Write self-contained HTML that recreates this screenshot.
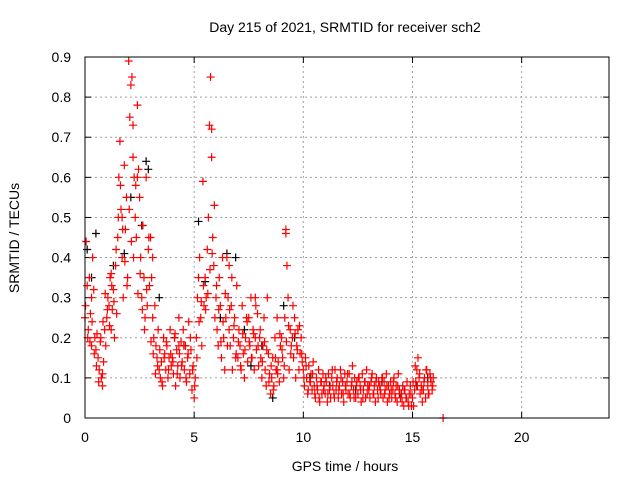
<!DOCTYPE html>
<html><head><meta charset="utf-8"><style>
body{margin:0;background:#fff;}
svg{display:block;font-family:"Liberation Sans",sans-serif;}
</style></head><body>
<svg id="chart" width="640" height="480">
<text x="345" y="32" font-size="14" text-anchor="middle">Day 215 of 2021, SRMTID for receiver sch2</text>
<text x="345" y="471" font-size="14" text-anchor="middle">GPS time / hours</text>
<text transform="translate(19,238) rotate(-90)" font-size="14" text-anchor="middle">SRMTID / TECUs</text>
<g id="grid"></g>
<g id="ticks"></g>
<g id="black"></g>
<g id="red"></g>
<rect x="85" y="57" width="524" height="361" fill="none" stroke="#000" stroke-width="1"/>
</svg>
<script>
const xTicks=[0,5,10,15,20];
const yTicks=[0,0.1,0.2,0.3,0.4,0.5,0.6,0.7,0.8,0.9];
const yTickLabels=["0","0.1","0.2","0.3","0.4","0.5","0.6","0.7","0.8","0.9"];
const redStart=0, redStep=0.05;
const redValues=[
0.25,0.44,0.33,0.22,0.35,0.26,0.18,0.40,0.32,0.20,
0.17,0.21,0.15,0.12,0.19,0.10,0.08,0.14,0.22,0.18,
0.25,0.30,0.28,0.35,0.22,0.27,0.32,0.20,0.38,0.26,
0.45,0.60,0.69,0.52,0.40,0.30,0.63,0.47,0.55,0.35,
0.89,0.75,0.83,0.85,0.65,0.60,0.50,0.45,0.78,0.62,
0.55,0.40,0.30,0.48,0.35,0.25,0.60,0.28,0.42,0.33,
0.45,0.35,0.25,0.20,0.28,0.18,0.15,0.22,0.12,0.10,
0.14,0.08,0.20,0.16,0.12,0.18,0.10,0.15,0.22,0.13,
0.15,0.11,0.20,0.08,0.17,0.13,0.25,0.10,0.19,0.14,
0.22,0.12,0.18,0.09,0.15,0.24,0.11,0.17,0.07,0.13,
0.05,0.10,0.20,0.30,0.35,0.40,0.25,0.18,0.59,0.28,
0.35,0.30,0.42,0.50,0.73,0.85,0.65,0.45,0.38,0.25,
0.30,0.22,0.18,0.35,0.28,0.15,0.40,0.20,0.12,0.25,
0.40,0.30,0.22,0.18,0.28,0.12,0.20,0.25,0.15,0.33,
0.15,0.22,0.18,0.12,0.28,0.16,0.10,0.20,0.25,0.14,
0.25,0.18,0.30,0.15,0.22,0.12,0.20,0.17,0.26,0.13,
0.20,0.15,0.10,0.18,0.25,0.12,0.08,0.30,0.16,0.11,
0.06,0.10,0.15,0.08,0.20,0.12,0.25,0.14,0.09,0.18,
0.20,0.15,0.10,0.25,0.47,0.38,0.30,0.12,0.22,0.18,
0.20,0.15,0.25,0.10,0.18,0.22,0.12,0.16,0.20,0.14,
0.12,0.08,0.15,0.10,0.06,0.13,0.09,0.11,0.07,0.14,
0.08,0.05,0.10,0.07,0.12,0.04,0.09,0.06,0.11,0.08,
0.06,0.09,0.04,0.11,0.07,0.05,0.10,0.08,0.06,0.12,
0.07,0.10,0.05,0.08,0.12,0.06,0.09,0.04,0.11,0.07,
0.09,0.06,0.11,0.05,0.08,0.13,0.07,0.10,0.05,0.09,
0.06,0.10,0.08,0.04,0.11,0.07,0.09,0.05,0.12,0.08,
0.07,0.05,0.09,0.11,0.06,0.08,0.04,0.10,0.07,0.09,
0.08,0.06,0.10,0.05,0.09,0.07,0.11,0.04,0.08,0.06,
0.09,0.05,0.07,0.10,0.06,0.08,0.04,0.11,0.07,0.05,
0.06,0.08,0.03,0.07,0.05,0.09,0.04,0.06,0.08,0.03,
0.05,0.03,0.07,0.09,0.12,0.15,0.10,0.06,0.08,0.04,
0.07,0.10,0.05,0.12,0.08,0.06,0.11,0.09,0.07,0.10];
const redStart2=0.025, redStep2=0.1;
const redValues2=[
0.28,0.20,0.19,0.24,0.16,0.13,0.09,0.20,0.24,0.31,
0.27,0.23,0.33,0.29,0.42,0.50,0.58,0.47,0.39,0.33,
0.52,0.44,0.40,0.58,0.31,0.36,0.27,0.22,0.32,0.45,
0.19,0.16,0.11,0.13,0.17,0.09,0.15,0.19,0.12,0.16,
0.14,0.21,0.11,0.16,0.13,0.18,0.10,0.16,0.20,0.12,
0.08,0.15,0.24,0.29,0.33,0.27,0.31,0.37,0.41,0.53,
0.33,0.27,0.19,0.24,0.31,0.18,0.27,0.35,0.23,0.16,
0.19,0.13,0.21,0.17,0.24,0.19,0.15,0.21,0.28,0.18,
0.22,0.14,0.19,0.17,0.09,0.13,0.07,0.15,0.11,0.21,
0.17,0.13,0.19,0.23,0.16,0.28,0.21,0.17,0.23,0.16,
0.10,0.13,0.07,0.09,0.11,0.06,0.08,0.05,0.09,0.07,
0.10,0.06,0.08,0.12,0.05,0.09,0.07,0.10,0.06,0.08,
0.11,0.06,0.09,0.05,0.08,0.10,0.07,0.05,0.09,0.06,
0.08,0.10,0.06,0.09,0.05,0.07,0.10,0.06,0.08,0.05,
0.07,0.09,0.05,0.08,0.06,0.04,0.07,0.05,0.03,0.06,
0.09,0.13,0.08,0.11,0.07,0.09,0.12,0.06,0.10,0.08];
const redExtraTimes=[16.4,1.7,2.2,2.4,5.8,9.2,0.3,1.2,3.1,6.6,7.8,0.8,4.3,8.8];
const redExtraValues=[0.0,0.5,0.73,0.6,0.72,0.46,0.3,0.36,0.4,0.38,0.3,0.11,0.18,0.12];
const blackTimes=[0.1,0.3,0.5,1.3,1.8,2.1,2.8,2.9,3.4,4.1,4.6,5.2,5.5,6.2,6.9,7.3,7.6,8.1,8.6,9.1,9.6,10.3,11.2,12.4,13.6,14.4,15.2,15.7,2.6,6.5];
const blackValues=[0.42,0.35,0.46,0.38,0.41,0.55,0.64,0.62,0.30,0.20,0.18,0.49,0.34,0.25,0.40,0.22,0.13,0.18,0.05,0.28,0.20,0.10,0.08,0.07,0.09,0.06,0.08,0.10,0.48,0.41];
const X0=85,X1=609,Y0=418,Y1=57,XMAX=24,YMAX=0.9;
const sx=v=>X0+(X1-X0)*v/XMAX, sy=v=>Y0-(Y0-Y1)*v/YMAX;
const NS="http://www.w3.org/2000/svg";
function mk(tag,attrs,parent){const e=document.createElementNS(NS,tag);for(const k in attrs)e.setAttribute(k,attrs[k]);parent.appendChild(e);return e;}
const grid=document.getElementById('grid'),ticks=document.getElementById('ticks');
xTicks.forEach(t=>{const x=sx(t);
 if(t>0){const l=mk('line',{x1:x,y1:Y0,x2:x,y2:Y1,stroke:'#a0a0a0','stroke-dasharray':'2,3'},grid);}
 mk('line',{x1:x,y1:Y0,x2:x,y2:Y0-6,stroke:'#000'},ticks);mk('line',{x1:x,y1:Y1,x2:x,y2:Y1+6,stroke:'#000'},ticks);
 const tx=mk('text',{x:x,y:Y0+24,'font-size':14,'text-anchor':'middle'},ticks);tx.textContent=t;
 });
yTicks.forEach((t,i)=>{const y=sy(t);
 if(t>0){const l=mk('line',{x1:X0,y1:y,x2:X1,y2:y,stroke:'#a0a0a0','stroke-dasharray':'2,3'},grid);}
 mk('line',{x1:X0,y1:y,x2:X0+6,y2:y,stroke:'#000'},ticks);mk('line',{x1:X1,y1:y,x2:X1-6,y2:y,stroke:'#000'},ticks);
 const tx=mk('text',{x:X0-14,y:y+5,'font-size':14,'text-anchor':'end'},ticks);tx.textContent=yTickLabels[i];
 });
function plus(g,t,v,c){const x=sx(t),y=sy(v);
 const p=mk('path',{d:`M${x-4} ${y}H${x+4}M${x} ${y-4}V${y+4}`,stroke:c,'stroke-width':1.2,fill:'none'},g);
 }
const bg=document.getElementById('black'),rg=document.getElementById('red');
blackTimes.forEach((t,i)=>plus(bg,t,blackValues[i],'#000'));
redValues.forEach((v,i)=>plus(rg,redStart+i*redStep,v,'#ff0000'));
redValues2.forEach((v,i)=>plus(rg,redStart2+i*redStep2,v,'#ff0000'));
redExtraTimes.forEach((t,i)=>plus(rg,t,redExtraValues[i],'#ff0000'));
</script>
</body></html>
